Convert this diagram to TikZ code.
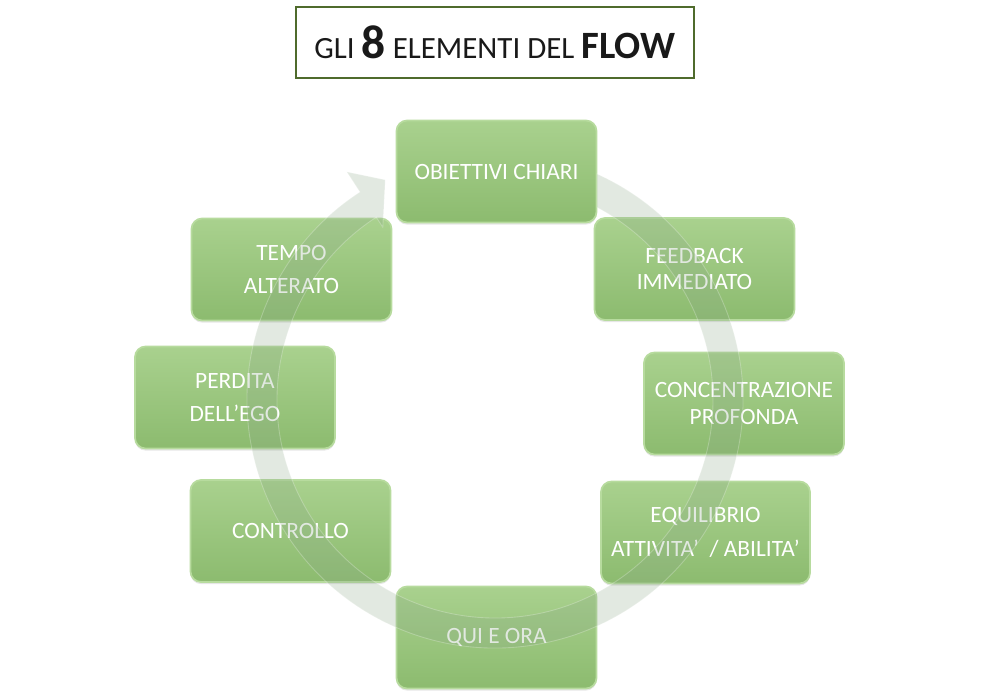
\documentclass[tikz,border=0pt]{standalone}
\usepackage{fontspec}
\setmainfont{Carlito}
\usetikzlibrary{shadows}
\definecolor{boxtop}{HTML}{A9D18E}
\definecolor{boxbot}{HTML}{8CBB6F}
\definecolor{boxline}{HTML}{B7DB9E}
\definecolor{ringcol}{HTML}{8BA787}
\definecolor{titleline}{HTML}{4F6B2C}
\tikzset{font=\fontsize{13.3}{15}\selectfont}
\tikzstyle{elem}=[rectangle,rounded corners=6pt,draw=boxline,line width=1pt,top color=boxtop,bottom color=boxbot,text=white,align=center,minimum width=4cm,minimum height=2.04cm,drop shadow={opacity=0.2,shadow xshift=0pt,shadow yshift=-1.2pt}]
\tikzstyle{titlebox}=[rectangle,draw=titleline,line width=1.1pt,fill=white,minimum width=7.96cm,minimum height=1.42cm,text=black!90]
\tikzstyle{ring}=[fill=ringcol,fill opacity=0.25,draw=white,draw opacity=0.25,line width=0.5pt]

\begin{document}
\begin{tikzpicture}[x=0.02cm,y=0.02cm]
\useasboundingbox (0,0) rectangle (991,-694);
\node[titlebox] (T) at (495,-42.5) {\fontsize{17.6}{22}\selectfont GLI {\fontsize{27}{30}\selectfont\bfseries 8} ELEMENTI DEL {\fontsize{22}{26}\selectfont\bfseries FLOW}};
\node[elem] (A) at (496.5,-171.5) {OBIETTIVI CHIARI};
\node[elem] (B) at (694.5,-269) {FEEDBACK\\IMMEDIATO};
\node[elem] (C) at (744,-403.5) {CONCENTRAZIONE\\PROFONDA};
\node[elem,minimum width=4.18cm] (D) at (705.5,-532.5) {EQUILIBRIO\\[4pt]ATTIVITA’~ / ABILITA’};
\node[elem] (E) at (496.5,-637.5) {QUI E ORA};
\node[elem] (F) at (290.5,-531) {CONTROLLO};
\node[elem] (G) at (235,-397.5) {PERDITA\\[4pt]DELL’EGO};
\node[elem] (H) at (291.5,-269.5) {TEMPO\\[4pt]ALTERATO};
% ring arrow, tail cut at the right side of (A)
\begin{scope}[shift={(495,-400)}]
\draw[ring] (65.7:248) arc[start angle=65.7,end angle=-237,radius=248] -- (-237:272) -- (-243.5:246) -- (-237:206) -- (-237:218) arc[start angle=-237,end angle=62.1,radius=218] -- cycle;
\end{scope}
\end{tikzpicture}
\end{document}
